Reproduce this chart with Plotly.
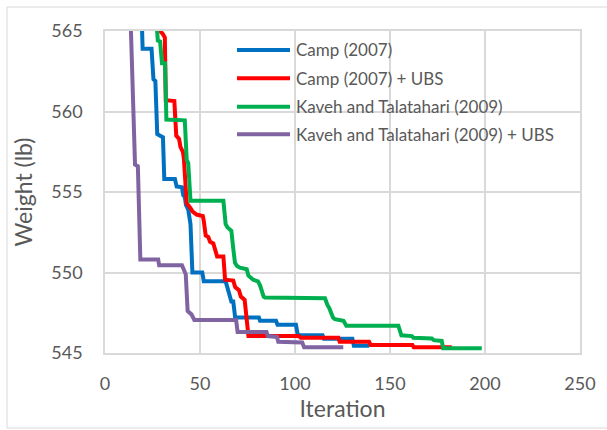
import plotly.graph_objects as go

# ---- data ----
series_names = [
    "Camp (2007)",
    "Camp (2007) + UBS",
    "Kaveh and Talatahari (2009)",
    "Kaveh and Talatahari (2009) + UBS",
]

camp_x = [19.3, 19.8, 24.5, 25.5, 26.5, 27.5, 29.0, 30.5, 31.2, 36.8, 37.7, 40.5, 41.2, 42.0, 42.6, 43.8,
          45.0, 46.0, 51.2, 52.0, 63.5, 65.0, 66.5, 67.5, 68.5, 81.0, 81.6, 90.0, 90.8, 100.5, 101.5,
          114.5, 115.2, 130.2, 131.0, 139.0]
camp_y = [566.0, 563.9, 563.9, 562.0, 561.9, 558.6, 558.5, 558.4, 555.8, 555.8, 555.35, 555.3, 554.8, 554.7,
          554.2, 553.9, 553.0, 550.0, 550.0, 549.45, 549.45, 548.8, 548.2, 548.2, 547.2, 547.2, 547.0,
          547.0, 546.75, 546.75, 546.1, 546.1, 545.88, 545.88, 545.45, 545.45]

camp_ubs_x = [28.5, 29.0, 30.5, 31.5, 32.0, 36.5, 37.5, 39.0, 39.7, 41.0, 41.5, 42.3, 43.0, 45.0, 46.0,
              48.2, 51.5, 52.0, 53.0, 54.4, 55.3, 57.0, 58.2, 59.0, 62.3, 63.2, 67.5, 68.5, 70.5, 71.5,
              73.5, 74.8, 75.5, 102.0, 103.0, 122.8, 123.5, 139.0, 139.8, 161.8, 162.5, 182.5]
camp_ubs_y = [566.0, 565.0, 564.8, 564.6, 560.7, 560.65, 558.5, 558.3, 557.8, 557.5, 557.1, 555.0, 554.3,
              554.0, 553.8, 553.6, 553.5, 553.2, 552.3, 552.2, 551.9, 551.8, 551.2, 551.0, 551.0, 549.55,
              549.5, 549.1, 548.9, 548.5, 548.3, 546.5, 546.05, 546.05, 545.95, 545.95, 545.7, 545.7,
              545.5, 545.5, 545.35, 545.35]

kaveh_x = [26.8, 27.2, 27.8, 29.0, 30.0, 31.6, 32.3, 42.0, 43.0, 43.8, 45.0, 62.3, 63.5, 64.5, 66.5, 67.5,
           68.4, 69.5, 71.0, 74.6, 75.5, 78.0, 80.5, 81.6, 83.5, 84.2, 115.8, 117.0, 118.0, 120.0, 121.0,
           125.5, 127.0, 154.4, 156.0, 161.5, 162.3, 172.0, 173.0, 177.2, 178.0, 198.3]
kaveh_y = [566.0, 565.0, 564.4, 564.35, 563.0, 563.0, 559.5, 559.45, 557.0, 556.8, 554.45, 554.45, 553.0,
           552.8, 552.6, 551.5, 550.6, 550.4, 550.3, 550.2, 549.8, 549.55, 549.45, 549.2, 548.5, 548.45,
           548.4, 548.0, 547.8, 547.2, 547.1, 547.0, 546.7, 546.7, 546.1, 546.05, 545.95, 545.9, 545.8,
           545.75, 545.3, 545.3]

kaveh_ubs_x = [13.4, 15.8, 17.3, 18.6, 28.0, 28.5, 40.5, 41.5, 42.5, 43.5, 45.5, 47.0, 69.0, 69.8, 85.0,
               85.7, 90.5, 91.2, 103.8, 104.8, 125.4]
kaveh_ubs_y = [566.0, 556.7, 556.6, 550.8, 550.8, 550.45, 550.45, 550.1, 549.9, 547.6, 547.4, 547.05,
               547.05, 546.3, 546.3, 546.05, 546.0, 545.7, 545.65, 545.35, 545.35]

x_ticks = [0, 50, 100, 150, 200, 250]
y_ticks = [545, 550, 555, 560, 565]

colors = ["#0070C0", "#FF0000", "#00B050", "#8064A2"]

FONT = "Lato, 'Open Sans', sans-serif"
TXT = "#595959"
GRID = "#D9D9D9"

fig = go.Figure()
for name, xs, ys, c in zip(series_names,
                           [camp_x, camp_ubs_x, kaveh_x, kaveh_ubs_x],
                           [camp_y, camp_ubs_y, kaveh_y, kaveh_ubs_y],
                           colors):
    fig.add_trace(go.Scatter(x=xs, y=ys, mode="lines", name=name,
                             line=dict(color=c, width=4), showlegend=False))

# plot area: left 105, right 580, top 31, bottom 353 (px)
L, R, T, B = 105, 580, 31, 353
W, H = 607, 430
pw, ph = R - L, B - T

def px_x(px):
    return (px - L) / pw

def px_y(py):
    return (B - py) / ph

shapes = []
annotations = []
# custom legend
rows = [50, 78.3, 106.7, 134.3]
for name, c, ry in zip(series_names, colors, rows):
    shapes.append(dict(type="line", xref="paper", yref="paper",
                       x0=px_x(237), x1=px_x(290), y0=px_y(ry), y1=px_y(ry),
                       line=dict(color=c, width=4)))
    annotations.append(dict(xref="paper", yref="paper", x=px_x(294), y=px_y(ry),
                            xanchor="left", yanchor="middle", text=name, showarrow=False,
                            font=dict(family=FONT, size=17, color=TXT)))

# outer chart border
shapes.append(dict(type="rect", xref="paper", yref="paper",
                   x0=px_x(7), x1=px_x(612), y0=px_y(428), y1=px_y(7),
                   line=dict(color=GRID, width=1), layer="below"))

fig.update_layout(
    width=W, height=H,
    margin=dict(l=L, r=W - R, t=T, b=H - B, pad=0),
    paper_bgcolor="white", plot_bgcolor="white",
    font=dict(family=FONT, color=TXT),
    shapes=shapes, annotations=annotations,
)
fig.update_xaxes(
    range=[0, 250], tickvals=x_ticks, ticktext=[str(v) for v in x_ticks],
    showgrid=True, gridcolor=GRID, gridwidth=1.5,
    showline=True, linecolor=GRID, linewidth=1.5, mirror=True,
    zeroline=False, ticks="", ticklabelstandoff=14,
    tickfont=dict(family=FONT, size=18, color=TXT),
    title=dict(text="Iteration", font=dict(family=FONT, size=23, color=TXT), standoff=4),
)
fig.update_yaxes(
    range=[545, 565], tickvals=y_ticks, ticktext=[str(v) for v in y_ticks],
    showgrid=True, gridcolor=GRID, gridwidth=1.5,
    showline=True, linecolor=GRID, linewidth=1.5, mirror=True,
    zeroline=False, ticks="", ticklabelstandoff=17,
    tickfont=dict(family=FONT, size=18, color=TXT),
    title=dict(text="Weight (lb)", font=dict(family=FONT, size=23, color=TXT), standoff=12),
)

fig.write_html("out.html")
